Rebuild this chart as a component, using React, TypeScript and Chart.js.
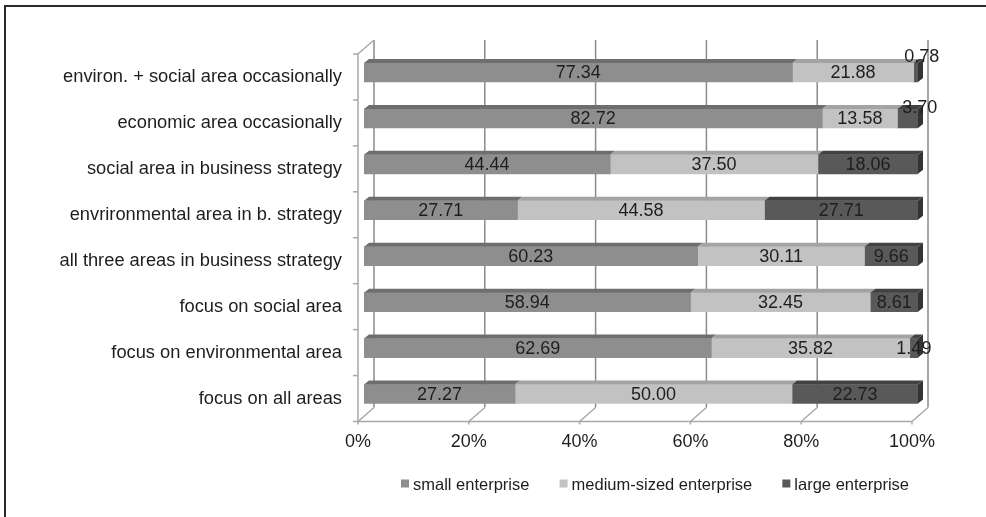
import { useEffect, useRef } from 'react';
import { Chart, registerables } from 'chart.js';

Chart.register(...registerables);

const categories = [
  'environ. + social area occasionally',
  'economic area occasionally',
  'social area in business strategy',
  'envrironmental area in b. strategy',
  'all three areas in business strategy',
  'focus on social area',
  'focus on environmental area',
  'focus on all areas',
];
const smallEnterprise = [77.34, 82.72, 44.44, 27.71, 60.23, 58.94, 62.69, 27.27];
const mediumEnterprise = [21.88, 13.58, 37.5, 44.58, 30.11, 32.45, 35.82, 50.0];
const largeEnterprise = [0.78, 3.7, 18.06, 27.71, 9.66, 8.61, 1.49, 22.73];
const seriesNames = ['small enterprise', 'medium-sized enterprise', 'large enterprise'];
const xTickValues = [0, 20, 40, 60, 80, 100];

const FONT = "'Liberation Sans', Arial, Helvetica, sans-serif";
const TEXT = '#1e1e1e';
const FRONT = { dx: -6, dy: 4.5 };
const BACK = { dx: 10, dy: -9.5 };
const DEPTH = { dx: 5, dy: 4 };
const faces = [
  { front: '#8e8e8e', top: '#6e6e6e', side: '#6a6a6a' },
  { front: '#c2c2c2', top: '#a3a3a3', side: '#9c9c9c' },
  { front: '#595959', top: '#424242', side: '#343434' },
];
// manual label displacement (row-dataset) as in the original
const labelShift: Record<string, [number, number]> = {
  '0-2': [6, -16.5],
  '1-2': [12, -11.5],
};

function line(ctx: CanvasRenderingContext2D, x1: number, y1: number, x2: number, y2: number) {
  ctx.beginPath();
  ctx.moveTo(x1, y1);
  ctx.lineTo(x2, y2);
  ctx.stroke();
}

const threeDPlugin = {
  id: 'threeD',
  beforeDatasetsDraw(chart: any) {
    const { ctx, chartArea: a, scales } = chart;
    const x = scales.x;
    ctx.save();
    ctx.lineWidth = 1.5;
    ctx.strokeStyle = '#8a8a8a';
    xTickValues.forEach((v) => {
      const px = x.getPixelForValue(v) + BACK.dx;
      line(ctx, px, a.top + BACK.dy, px, a.bottom + BACK.dy);
    });
    ctx.strokeStyle = '#a8a8a8';
    const l0 = x.getPixelForValue(0);
    const r0 = x.getPixelForValue(100);
    line(ctx, l0 + FRONT.dx, a.top + FRONT.dy, l0 + FRONT.dx, a.bottom + FRONT.dy);
    line(ctx, l0 + FRONT.dx, a.top + FRONT.dy, l0 + BACK.dx, a.top + BACK.dy);
    const band = (a.bottom - a.top) / categories.length;
    for (let k = 0; k <= categories.length; k++) {
      const y = a.top + k * band + FRONT.dy;
      line(ctx, l0 + FRONT.dx - 5, y, l0 + FRONT.dx, y);
    }
    line(ctx, l0 + FRONT.dx, a.bottom + FRONT.dy, r0 + FRONT.dx, a.bottom + FRONT.dy);
    xTickValues.forEach((v) => {
      const px = x.getPixelForValue(v);
      line(ctx, px + FRONT.dx, a.bottom + FRONT.dy, px + BACK.dx, a.bottom + BACK.dy);
      line(ctx, px + FRONT.dx, a.bottom + FRONT.dy, px + FRONT.dx, a.bottom + FRONT.dy + 3);
    });
    ctx.restore();
  },
  afterDatasetsDraw(chart: any) {
    const { ctx } = chart;
    ctx.save();
    const n = chart.data.datasets.length;
    for (let i = 0; i < n; i++) {
      const meta = chart.getDatasetMeta(i);
      meta.data.forEach((el: any) => {
        const h = el.height;
        const top = el.y - h / 2;
        const x0 = Math.min(el.base, el.x);
        const x1 = Math.max(el.base, el.x);
        ctx.fillStyle = faces[i].top;
        ctx.beginPath();
        ctx.moveTo(x0, top);
        ctx.lineTo(x1, top);
        ctx.lineTo(x1 + DEPTH.dx, top - DEPTH.dy);
        ctx.lineTo(x0 + DEPTH.dx, top - DEPTH.dy);
        ctx.closePath();
        ctx.fill();
        if (i === n - 1) {
          ctx.fillStyle = faces[i].side;
          ctx.beginPath();
          ctx.moveTo(x1, top);
          ctx.lineTo(x1 + DEPTH.dx, top - DEPTH.dy);
          ctx.lineTo(x1 + DEPTH.dx, top + h - DEPTH.dy);
          ctx.lineTo(x1, top + h);
          ctx.closePath();
          ctx.fill();
        }
      });
    }
    ctx.font = `18px ${FONT}`;
    ctx.fillStyle = TEXT;
    ctx.textAlign = 'center';
    ctx.textBaseline = 'middle';
    for (let i = 0; i < n; i++) {
      const meta = chart.getDatasetMeta(i);
      const values = chart.data.datasets[i].data as number[];
      meta.data.forEach((el: any, j: number) => {
        const s = labelShift[`${j}-${i}`] || [0, 0];
        const cx = (el.x + el.base) / 2 + s[0];
        const cy = el.y + s[1];
        ctx.fillText(values[j].toFixed(2), cx, cy + 1);
      });
    }
    ctx.restore();
  },
  afterDraw(chart: any) {
    const { ctx } = chart;
    ctx.save();
    // legend
    ctx.font = `16.5px ${FONT}`;
    ctx.textBaseline = 'middle';
    ctx.textAlign = 'left';
    const box = 8, gap = 4;
    const widths = seriesNames.map((t) => ctx.measureText(t).width);
    const startX = 401, endX = 909;
    const used = widths.reduce((s, w) => s + box + gap + w, 0);
    const itemGap = (endX - startX - used) / (seriesNames.length - 1);
    let lx = startX;
    const ly = 484;
    seriesNames.forEach((t, i) => {
      ctx.fillStyle = faces[i].front;
      ctx.fillRect(lx, ly - 4.5, box, box);
      ctx.fillStyle = TEXT;
      ctx.fillText(t, lx + box + gap, ly + 1);
      lx += box + gap + widths[i] + itemGap;
    });
    // frame
    ctx.fillStyle = '#2a2a2a';
    ctx.fillRect(4, 5, 982, 2);
    ctx.fillRect(4, 5, 2, 512);
    ctx.restore();
  },
};

export default function App() {
  const ref = useRef<HTMLCanvasElement | null>(null);
  useEffect(() => {
    document.body.style.margin = '0';
    const canvas = ref.current;
    if (!canvas) return;
    const series = [smallEnterprise, mediumEnterprise, largeEnterprise];
    const chart = new Chart(canvas, {
      type: 'bar',
      data: {
        labels: categories,
        datasets: series.map((d, i) => ({
          label: seriesNames[i],
          data: d,
          backgroundColor: faces[i].front,
          borderWidth: 0,
          barThickness: 19,
        })),
      },
      options: {
        indexAxis: 'y',
        responsive: true,
        maintainAspectRatio: false,
        animation: false,
        layout: { padding: { top: 49.5, right: 68, bottom: 0, left: 0 } },
        plugins: {
          legend: { display: false },
          tooltip: { enabled: false },
          title: { display: false },
        },
        scales: {
          x: {
            stacked: true,
            min: 0,
            max: 100,
            grid: { display: false },
            border: { display: false },
            afterFit: (s: any) => {
              s.height = 100;
            },
            afterBuildTicks: (s: any) => {
              s.ticks = xTickValues.map((v) => ({ value: v }));
            },
            ticks: {
              callback: (v: any) => `${v}%`,
              font: { family: FONT, size: 18 },
              color: TEXT,
              padding: 6,
              labelOffset: -6,
              maxRotation: 0,
            },
          },
          y: {
            stacked: true,
            grid: { display: false },
            border: { display: false },
            afterFit: (s: any) => {
              s.width = 364;
            },
            ticks: {
              font: { family: FONT, size: 18.3 },
              color: TEXT,
              padding: 14,
              labelOffset: 4.5,
            },
          },
        },
      },
      plugins: [threeDPlugin],
    });
    return () => chart.destroy();
  }, []);
  return (
    <div style={{ width: 986, height: 517, position: 'relative', background: '#fff' }}>
      <canvas ref={ref} />
    </div>
  );
}
